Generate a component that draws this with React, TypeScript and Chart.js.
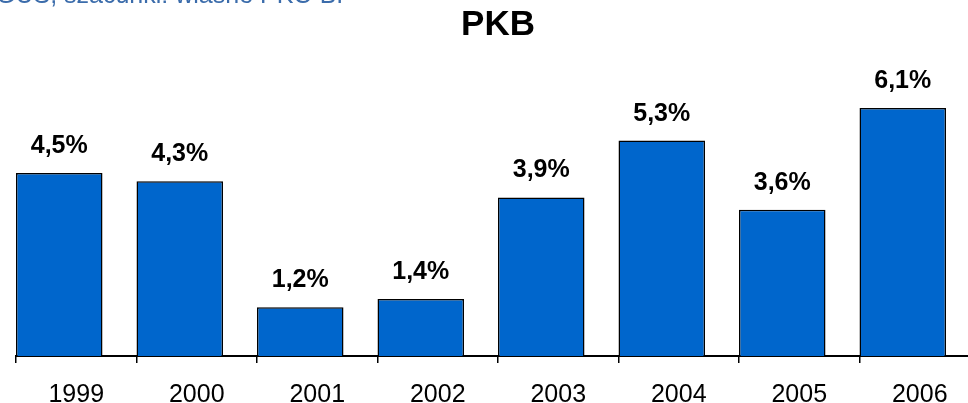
import React, { useEffect, useRef } from "react";
import { Chart, registerables } from "chart.js";

Chart.register(...registerables);

const categories: string[] = ["1999", "2000", "2001", "2002", "2003", "2004", "2005", "2006"];
const gdpGrowth: number[] = [4.5, 4.3, 1.2, 1.4, 3.9, 5.3, 3.6, 6.1];
const spacer: (number | null)[] = [null, null, null, null, null, null, null, null];
const chartTitle = "PKB";
const sourceText = "GUS, szacunki: własne PKO BP";

const FONT = "'Liberation Sans', Arial, Helvetica, sans-serif";

const valueLabels = {
  id: "valueLabels",
  afterDatasetsDraw(chart: any) {
    const ctx = chart.ctx;
    const meta = chart.getDatasetMeta(0);
    ctx.save();
    ctx.font = `bold 25px ${FONT}`;
    ctx.fillStyle = "#000000";
    ctx.textAlign = "center";
    ctx.textBaseline = "alphabetic";
    meta.data.forEach((bar: any, i: number) => {
      const v = gdpGrowth[i];
      const txt = v.toFixed(1).replace(".", ",") + "%";
      ctx.fillText(txt, bar.x, bar.y - 20);
    });
    ctx.restore();
  },
};

export default function App() {
  const ref = useRef<HTMLCanvasElement | null>(null);

  useEffect(() => {
    if (!ref.current) return;
    const chart = new Chart(ref.current, {
      type: "bar",
      data: {
        labels: categories,
        datasets: [
          {
            label: "PKB",
            data: gdpGrowth,
            backgroundColor: "#0066CC",
            borderColor: "#000000",
            borderWidth: 1.5,
            categoryPercentage: 0.564,
            barPercentage: 2.546,
          },
          {
            label: "",
            data: spacer,
            backgroundColor: "rgba(0,0,0,0)",
            borderWidth: 0,
            categoryPercentage: 0.564,
            barPercentage: 2.546,
          },
        ],
      },
      options: {
        responsive: false,
        animation: false,
        layout: { padding: { left: 16, right: 16, top: 0, bottom: 0 } },
        plugins: {
          legend: { display: false },
          tooltip: { enabled: false },
          title: {
            display: true,
            text: chartTitle,
            color: "#000000",
            font: { family: FONT, size: 35, weight: "bold" },
            padding: { top: 4, bottom: 25.4 },
          },
        },
        scales: {
          x: {
            offset: true,
            grid: {
              display: true,
              offset: true,
              drawOnChartArea: false,
              drawTicks: true,
              tickLength: 7,
              color: "#000000",
              lineWidth: 1.5,
            },
            border: { display: true, color: "#000000", width: 2 },
            ticks: {
              color: "#000000",
              font: { family: FONT, size: 25 },
              padding: 17,
              maxRotation: 0,
              autoSkip: false,
            },
            afterFit: (scale: any) => {
              scale.height = 47;
            },
          },
          y: {
            display: false,
            min: 0,
            max: 7,
            beginAtZero: true,
          },
        },
      },
      plugins: [valueLabels],
    });
    return () => chart.destroy();
  }, []);

  return (
    <div
      style={{
        position: "absolute",
        left: 0,
        top: 0,
        width: 968,
        height: 403,
        overflow: "hidden",
        background: "#ffffff",
      }}
    >
      <canvas
        ref={ref}
        width={996}
        height={403}
        style={{ position: "absolute", left: 0, top: 0, width: 996, height: 403 }}
      />
      <div
        style={{
          position: "absolute",
          left: -4,
          top: -18,
          fontFamily: FONT,
          fontSize: 25,
          lineHeight: "25px",
          color: "#3b6cab",
          whiteSpace: "nowrap",
        }}
      >
        {sourceText}
      </div>
    </div>
  );
}
